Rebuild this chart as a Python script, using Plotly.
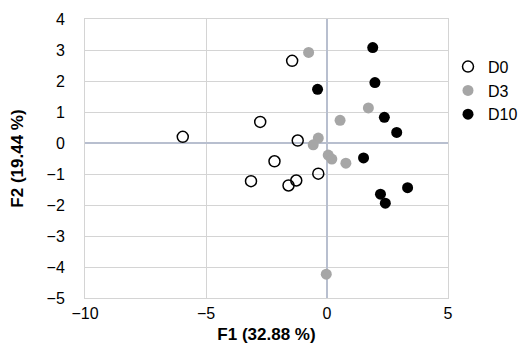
import plotly.graph_objects as go

d0_x = [-5.96, -2.76, -3.14, -1.44, -1.21, -2.17, -0.36, -1.59, -1.27]
d0_y = [0.20, 0.68, -1.23, 2.65, 0.08, -0.59, -0.99, -1.37, -1.21]
d3_x = [-0.76, 0.54, 1.71, -0.36, -0.57, 0.05, 0.20, 0.78, -0.03]
d3_y = [2.92, 0.73, 1.13, 0.16, -0.06, -0.39, -0.52, -0.65, -4.23]
d10_x = [1.89, 1.98, -0.39, 2.37, 2.88, 1.51, 3.33, 2.21, 2.41]
d10_y = [3.08, 1.95, 1.73, 0.83, 0.34, -0.48, -1.44, -1.65, -1.94]
y_ticks = [-5, -4, -3, -2, -1, 0, 1, 2, 3, 4]
x_ticks = [-10, -5, 0, 5]

fig = go.Figure()
fig.add_trace(go.Scatter(x=d0_x, y=d0_y, mode="markers", name="D0",
    marker=dict(symbol="circle-open", size=11, color="black", line=dict(width=1.5))))
fig.add_trace(go.Scatter(x=d3_x, y=d3_y, mode="markers", name="D3",
    marker=dict(symbol="circle", size=11, color="#a6a6a6")))
fig.add_trace(go.Scatter(x=d10_x, y=d10_y, mode="markers", name="D10",
    marker=dict(symbol="circle", size=11, color="black")))

font = "Liberation Sans, Arial, sans-serif"
grid = "#d4d4d4"
fig.update_layout(
    width=526, height=353,
    margin=dict(l=77, r=78, t=11, b=63),
    paper_bgcolor="white", plot_bgcolor="white",
    font=dict(family=font, size=16, color="black"),
    showlegend=True,
    legend=dict(x=1.0, y=0.89, xanchor="left", yanchor="top",
                font=dict(size=16), itemwidth=30, tracegroupgap=0,
                bgcolor="rgba(0,0,0,0)", borderwidth=0),
    xaxis=dict(range=[-10, 5], tickmode="array", tickvals=x_ticks, showgrid=True,
               gridcolor=grid, gridwidth=1, zeroline=True,
               zerolinecolor="#b8bfcf", zerolinewidth=1.5, automargin=False,
               showline=True, linecolor=grid, linewidth=1, mirror=True,
               ticks="outside", ticklen=1, tickcolor="rgba(0,0,0,0)",
               title=dict(text="<b>F1 (32.88 %)</b>", font=dict(size=17), standoff=6)),
    yaxis=dict(range=[-5, 4], tickmode="array", tickvals=y_ticks, showgrid=True,
               gridcolor=grid, gridwidth=1, zeroline=True,
               zerolinecolor="#b8bfcf", zerolinewidth=1.5, automargin=False,
               showline=True, linecolor=grid, linewidth=1, mirror=True,
               ticks="outside", ticklen=16, tickcolor="rgba(0,0,0,0)",
               title=dict(text="<b>F2 (19.44 %)</b>", font=dict(size=17), standoff=20)),
)
fig.write_html("out.html")
